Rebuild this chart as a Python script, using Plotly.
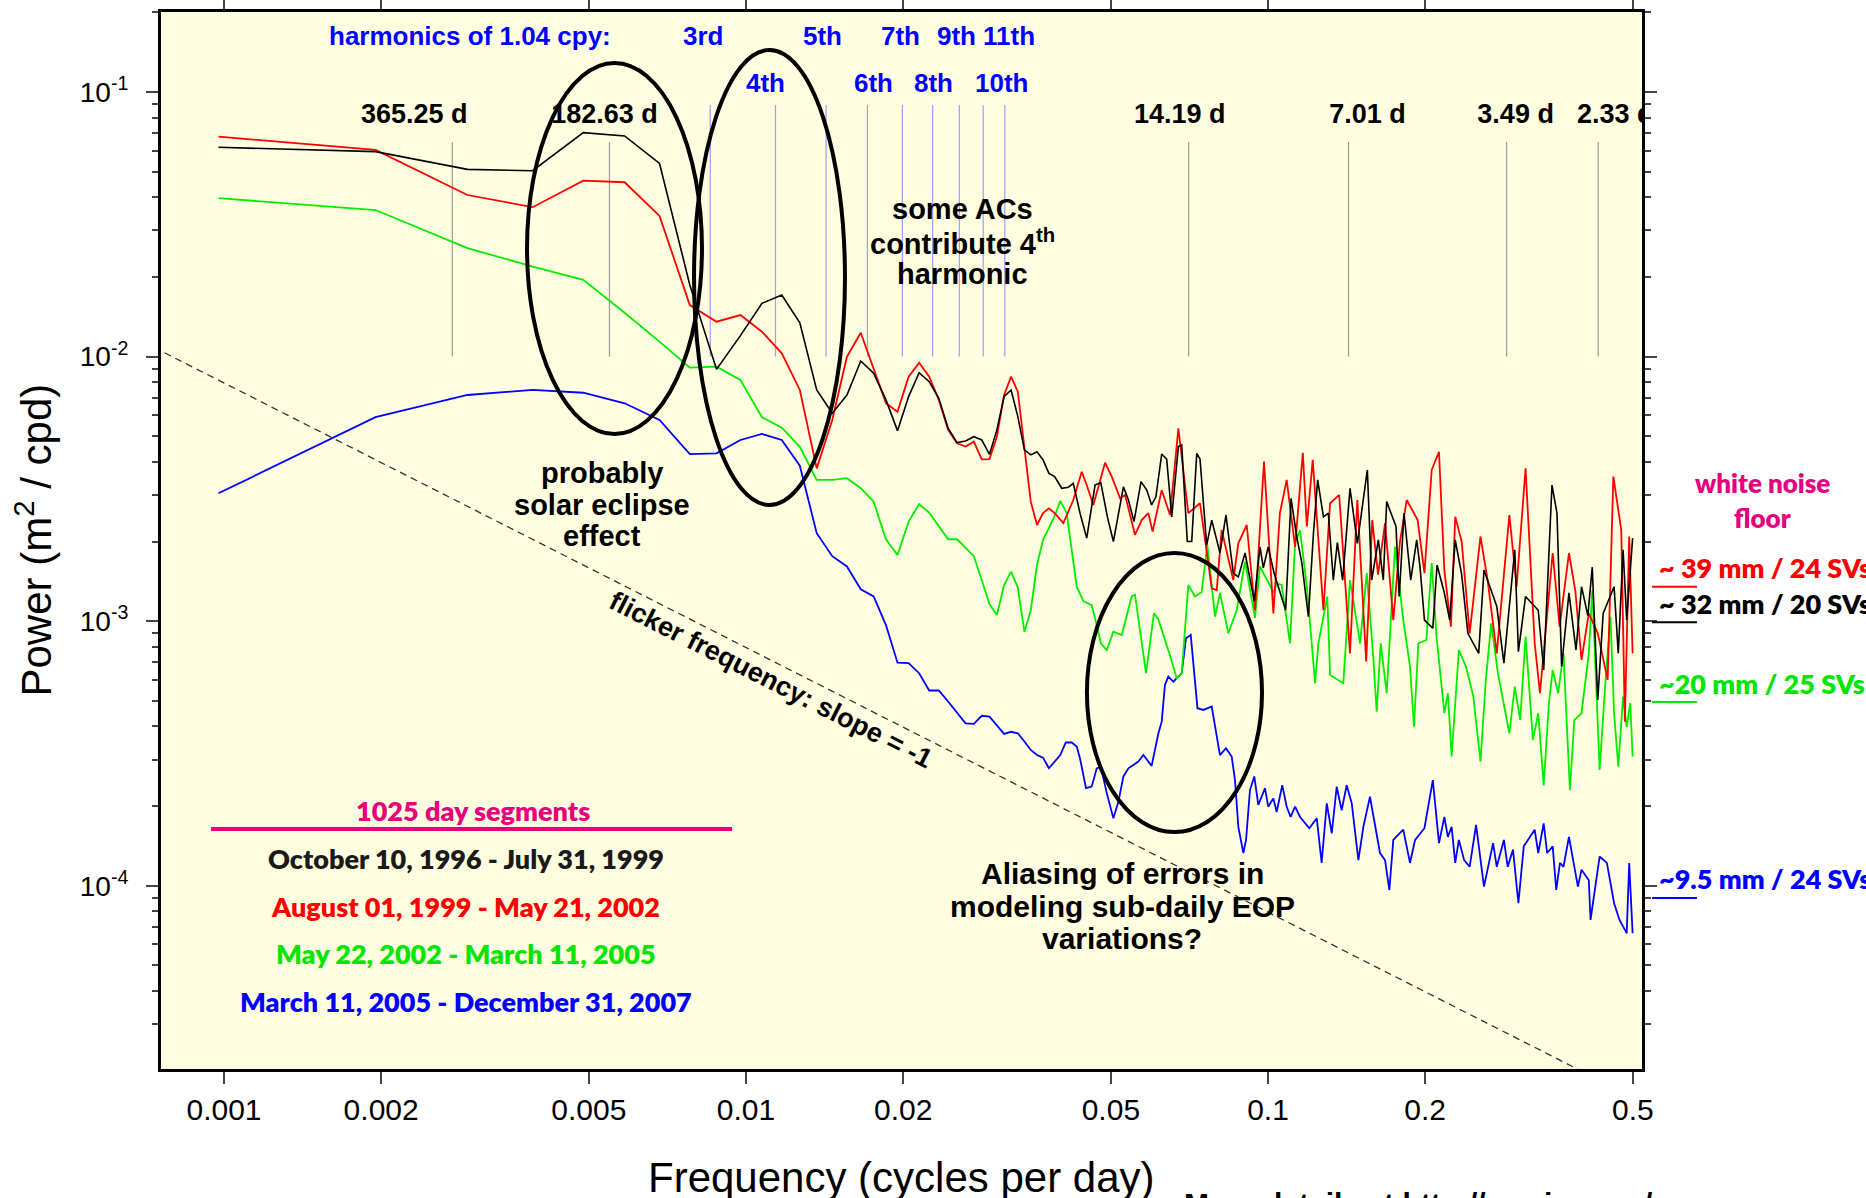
import math
import plotly.graph_objects as go

# ---------------- data ----------------
# frequency bins of the 1025-day segments (cycles per day), low-frequency part
low_freq = [0.000976, 0.001951, 0.002927, 0.003902, 0.004878, 0.005854, 0.006829, 0.007805,
            0.008780, 0.009756, 0.01073, 0.01171, 0.01268, 0.01366, 0.01463, 0.01561,
            0.01659, 0.01756, 0.01854, 0.01951, 0.02049, 0.02146, 0.02244, 0.02341,
            0.02439, 0.02537, 0.02634, 0.02732, 0.02829, 0.02927, 0.03024, 0.03122,
            0.03220, 0.03317, 0.03415, 0.03512, 0.03610, 0.03707, 0.03805, 0.03902,
            0.04000, 0.04098]

# --- October 10, 1996 - July 31, 1999 (black)
black_low_p = [0.0618, 0.0595, 0.0510, 0.0504, 0.0702, 0.0682, 0.0537, 0.01865,
               0.00895, 0.0120, 0.0159, 0.01709, 0.01343, 0.00748, 0.00611, 0.00716,
               0.00962, 0.00865, 0.00686, 0.00525, 0.00706, 0.00869, 0.00804, 0.00696,
               0.00536, 0.00473, 0.00480, 0.00498, 0.00484, 0.00427, 0.00528, 0.00706,
               0.00748, 0.00593, 0.00444, 0.00425, 0.00437, 0.00407, 0.00362, 0.00352]
black_hf_f = [0.04026, 0.04145, 0.04237, 0.04364, 0.04495, 0.04663, 0.04783, 0.04924, 0.05056, 0.05285,
              0.05403, 0.05537, 0.05712, 0.05858, 0.05985, 0.06099, 0.06257, 0.06396, 0.06540, 0.06735,
              0.06834, 0.07005, 0.07143, 0.07303, 0.07409, 0.07631, 0.07802, 0.08091, 0.08308, 0.08581,
              0.08774, 0.09037, 0.09413, 0.09654, 0.09796, 0.1001, 0.1027, 0.1081, 0.1107, 0.1135,
              0.1161, 0.1195, 0.1222, 0.1245, 0.1277, 0.1305, 0.1334, 0.1358, 0.1390, 0.1436,
              0.1483, 0.1550, 0.1580, 0.1627, 0.1663, 0.1688, 0.1759, 0.1784, 0.1822, 0.1877,
              0.1927, 0.1955, 0.1994, 0.2069, 0.2108, 0.2177, 0.2229, 0.2284, 0.2350, 0.2415,
              0.2533, 0.2593, 0.2743, 0.2831, 0.2970, 0.3018, 0.3115, 0.3294, 0.3374, 0.3500,
              0.3578, 0.3652, 0.3772, 0.3891, 0.3987, 0.4100, 0.4180, 0.4283, 0.4386, 0.4603,
              0.4689, 0.4789, 0.4866, 0.4995]
black_hf_p = [0.00318, 0.00321, 0.00332, 0.00256, 0.00206, 0.00327, 0.00334, 0.00248, 0.00200, 0.00322,
              0.00287, 0.00238, 0.00337, 0.00313, 0.00275, 0.00295, 0.00428, 0.00410, 0.00248, 0.00457,
              0.00463, 0.00200, 0.00200, 0.00431, 0.00410, 0.00194, 0.00241, 0.00181, 0.00252, 0.00152,
              0.00147, 0.00181, 0.00119, 0.00191, 0.00159, 0.00191, 0.00152, 0.00110, 0.00291, 0.00209,
              0.00166, 0.00104, 0.00215, 0.00342, 0.00248, 0.00256, 0.00143, 0.00198, 0.00143, 0.00318,
              0.00197, 0.00373, 0.00143, 0.00203, 0.00143, 0.00283, 0.00228, 0.00124, 0.00256, 0.00143,
              0.00203, 0.00161, 0.00101, 0.00094, 0.00163, 0.00128, 0.00101, 0.00203, 0.00150, 0.00090,
              0.000756, 0.00156, 0.00114, 0.000694, 0.00186, 0.000767, 0.00124, 0.00110, 0.000654, 0.00327,
              0.00256, 0.000674, 0.00128, 0.000778, 0.00135, 0.00105, 0.00160, 0.000504, 0.00107, 0.00135,
              0.000756, 0.00186, 0.00101, 0.00206]

# --- August 01, 1999 - May 21, 2002 (red)
red_low_p = [0.0678, 0.0604, 0.0408, 0.0367, 0.0462, 0.0456, 0.0340, 0.01566,
             0.01355, 0.01436, 0.01242, 0.01029, 0.00748, 0.00378, 0.00576, 0.00999,
             0.01231, 0.00903, 0.00667, 0.00619, 0.00840, 0.00948, 0.00840, 0.00686,
             0.00528, 0.00470, 0.00457, 0.00477, 0.00409, 0.00410, 0.00498, 0.00716,
             0.00840, 0.00737, 0.00444, 0.00283, 0.00231, 0.00256, 0.00267, 0.00256]
red_hf_f = [0.04055, 0.04237, 0.04397, 0.04495, 0.04628, 0.04874, 0.05020, 0.05208, 0.05324, 0.05561,
            0.05730, 0.05900, 0.06011, 0.06257, 0.06491, 0.06735, 0.07037, 0.07409, 0.07802, 0.07976,
            0.08152, 0.08581, 0.08774, 0.09105, 0.09442, 0.09826, 0.1024, 0.1054, 0.1086, 0.1127,
            0.1166, 0.1187, 0.1218, 0.1277, 0.1315, 0.1369, 0.1436, 0.1483, 0.1542, 0.1584,
            0.1625, 0.1676, 0.1738, 0.1790, 0.1844, 0.1935, 0.1994, 0.2059, 0.2126, 0.2177,
            0.2241, 0.2284, 0.2350, 0.2434, 0.2553, 0.2635, 0.2743, 0.2900, 0.2994, 0.3115,
            0.3243, 0.3319, 0.3511, 0.3620, 0.3772, 0.3880, 0.3987, 0.4117, 0.4283, 0.4474,
            0.4588, 0.4751, 0.4827, 0.4920, 0.4995]
red_hf_p = [0.00235, 0.00287, 0.00367, 0.00327, 0.00275, 0.00397, 0.00352, 0.00291, 0.00300, 0.00212,
            0.00241, 0.00256, 0.00218, 0.00313, 0.00252, 0.00536, 0.00256, 0.00279, 0.00133, 0.00131,
            0.00221, 0.00143, 0.00197, 0.00231, 0.00110, 0.00401, 0.00107, 0.00256, 0.00342, 0.00191,
            0.00433, 0.00228, 0.00407, 0.00110, 0.00279, 0.00300, 0.000756, 0.00287, 0.000704, 0.00241,
            0.00150, 0.00235, 0.00101, 0.00200, 0.00287, 0.00241, 0.00152, 0.00373, 0.00437, 0.00156,
            0.000953, 0.00248, 0.00200, 0.00090, 0.00209, 0.00143, 0.000756, 0.00252, 0.00135, 0.00378,
            0.000825, 0.000534, 0.00181, 0.000953, 0.00181, 0.00130, 0.000714, 0.00107, 0.00090, 0.00060,
            0.00352, 0.00221, 0.000417, 0.00209, 0.000756]

# --- May 22, 2002 - March 11, 2005 (green)
green_low_p = [0.0397, 0.0358, 0.0257, 0.0219, 0.0195, 0.01464, 0.01139, 0.00908,
               0.00916, 0.00816, 0.00590, 0.00539, 0.00456, 0.00342, 0.00342, 0.00347,
               0.00318, 0.00283, 0.00204, 0.00178, 0.00238, 0.00277, 0.00257, 0.00228,
               0.00204, 0.00204, 0.00189, 0.00176, 0.00143, 0.00116, 0.001055, 0.00137,
               0.00154, 0.00134, 0.000912, 0.00110, 0.00163, 0.00203, 0.00225, 0.00250,
               0.00285]
green_hf_f = [0.04115, 0.04207, 0.04301, 0.04428, 0.04595, 0.04698, 0.04783, 0.04911, 0.05056, 0.05247,
              0.05481, 0.05561, 0.05839, 0.06046, 0.06160, 0.06471, 0.06686, 0.06834, 0.07037, 0.07248,
              0.07465, 0.07652, 0.07917, 0.08091, 0.08394, 0.08711, 0.09037, 0.09442, 0.09654, 0.1026,
              0.1039, 0.1062, 0.1102, 0.1127, 0.1152, 0.1187, 0.1231, 0.1249, 0.1299, 0.1315,
              0.1394, 0.1436, 0.1501, 0.1546, 0.1591, 0.1615, 0.1644, 0.1688, 0.1751, 0.1816,
              0.1871, 0.1904, 0.1941, 0.2011, 0.2059, 0.2103, 0.2177, 0.2211, 0.2248, 0.2321,
              0.2395, 0.2474, 0.2553, 0.2614, 0.2677, 0.2757, 0.2900, 0.2970, 0.3042, 0.3115,
              0.3217, 0.3294, 0.3374, 0.3453, 0.3511, 0.3595, 0.3682, 0.3788, 0.3862, 0.3987,
              0.4117, 0.4182, 0.4318, 0.4424, 0.4530, 0.4603, 0.4689, 0.4789, 0.4866, 0.4943,
              0.4995]
green_hf_p = [0.00256, 0.00186, 0.00135, 0.00119, 0.00115, 0.000967, 0.000825, 0.000778, 0.000912, 0.000887,
              0.00124, 0.00126, 0.000636, 0.00107, 0.00102, 0.000756, 0.000608, 0.000636, 0.00137, 0.00124,
              0.00129, 0.00194, 0.00104, 0.00128, 0.00090, 0.00110, 0.00168, 0.00103, 0.00161, 0.00128,
              0.00139, 0.00137, 0.000825, 0.00197, 0.00221, 0.00135, 0.000583, 0.000825, 0.00124, 0.000626,
              0.000583, 0.00143, 0.000825, 0.00152, 0.000734, 0.000455, 0.000825, 0.000534, 0.00191, 0.00101,
              0.000674, 0.000399, 0.000825, 0.000849, 0.00166, 0.000874, 0.000449, 0.000534, 0.000308, 0.000778,
              0.000674, 0.000519, 0.000295, 0.00060, 0.000981, 0.000636, 0.000377, 0.000566, 0.000423, 0.000874,
              0.000356, 0.000449, 0.000240, 0.000490, 0.000654, 0.000534, 0.000756, 0.000230, 0.000423, 0.000449,
              0.000756, 0.00131, 0.000274, 0.000566, 0.00104, 0.000449, 0.000282, 0.000519, 0.000399, 0.000490,
              0.000308]

# --- March 11, 2005 - December 31, 2007 (blue)
blue_low_p = [0.003043, 0.00590, 0.00716, 0.00748, 0.00730, 0.00666, 0.00576, 0.00428,
              0.00431, 0.00484, 0.00510, 0.00484, 0.00387, 0.00215, 0.00176, 0.00161,
              0.00132, 0.00124, 0.000967, 0.000697, 0.000694, 0.000636, 0.000547, 0.000547,
              0.000497, 0.000449, 0.000411, 0.000409, 0.000439, 0.000436, 0.000402, 0.000375,
              0.000382, 0.000377, 0.000351, 0.000326, 0.000312, 0.000305, 0.000278, 0.000295,
              0.000312, 0.000348]
blue_hf_f = [0.04207, 0.04301, 0.04364, 0.04481, 0.04595, 0.04698, 0.04783, 0.04911, 0.05056, 0.05170,
             0.05285, 0.05403, 0.05644, 0.05771, 0.05985, 0.06167, 0.06257, 0.06348, 0.06443, 0.06586,
             0.06834, 0.06965, 0.07112, 0.07326, 0.07518, 0.07802, 0.08091, 0.08308, 0.08520, 0.08646,
             0.08774, 0.08970, 0.09077, 0.09236, 0.09413, 0.09582, 0.09869, 0.1001, 0.1024, 0.1039,
             0.1065, 0.1086, 0.1105, 0.1127, 0.1152, 0.1200, 0.1240, 0.1267, 0.1296, 0.1325,
             0.1354, 0.1384, 0.1415, 0.1447, 0.1490, 0.1523, 0.1568, 0.1639, 0.1676, 0.1708,
             0.1738, 0.1816, 0.1871, 0.1913, 0.1994, 0.2069, 0.2126, 0.2177, 0.2211, 0.2248,
             0.2284, 0.2321, 0.2376, 0.2434, 0.2504, 0.2593, 0.2699, 0.2743, 0.2831, 0.2879,
             0.2947, 0.3018, 0.3090, 0.3243, 0.3294, 0.3374, 0.3426, 0.3511, 0.3566, 0.3625,
             0.3682, 0.3772, 0.3924, 0.3987, 0.4117, 0.4149, 0.4318, 0.4459, 0.4603, 0.4714,
             0.4866, 0.4920, 0.4995]
blue_hf_p = [0.000348, 0.000336, 0.000303, 0.000234, 0.000237, 0.000278, 0.000282, 0.000224, 0.000180, 0.000208,
             0.000259, 0.000278, 0.000295, 0.000312, 0.000284, 0.000377, 0.000417, 0.000575, 0.000617, 0.000591,
             0.000636, 0.000862, 0.000887, 0.000469, 0.000462, 0.000476, 0.000312, 0.000331, 0.000308, 0.000251,
             0.000167, 0.000133, 0.000149, 0.000230, 0.000259, 0.000202, 0.000234, 0.000199, 0.000214, 0.000190,
             0.000240, 0.000199, 0.000182, 0.000199, 0.000182, 0.000165, 0.000180, 0.000122, 0.000205, 0.000158,
             0.000237, 0.000193, 0.000240, 0.000205, 0.000125, 0.000167, 0.000217, 0.000133, 0.000125, 0.0000964,
             0.000149, 0.000163, 0.000122, 0.000149, 0.000165, 0.000251, 0.000145, 0.000182, 0.000153, 0.000167,
             0.000122, 0.000149, 0.000125, 0.000118, 0.000170, 0.0000993, 0.000145, 0.000118, 0.000149, 0.000118,
             0.000137, 0.0000859, 0.000141, 0.000163, 0.000133, 0.000172, 0.000133, 0.000141, 0.0000964, 0.000122,
             0.000118, 0.000153, 0.0000993, 0.000115, 0.000105, 0.0000743, 0.000129, 0.000122, 0.0000859, 0.0000743,
             0.0000662, 0.000122, 0.0000662]

segment_labels = ["October 10, 1996 - July 31, 1999", "August 01, 1999 - May 21, 2002",
                  "May 22, 2002 - March 11, 2005", "March 11, 2005 - December 31, 2007"]
segment_colors = ["#1a1a1a", "#FF0000", "#00E600", "#0000FF"]

# white noise floor levels (power) and their labels, order: red, black, green, blue
noise_floor_p = [0.00135, 0.00099, 0.000495, 0.0000900]
noise_floor_labels = ["~ 39 mm / 24 SVs", "~ 32 mm / 20 SVs", "~20 mm / 25 SVs", "~9.5 mm / 24 SVs"]
noise_floor_colors = ["#FF0000", "#000000", "#00E600", "#0000FF"]

period_days = [365.25, 182.63, 14.19, 7.01, 3.49, 2.33]
harmonic_base_cpy = 1.04
harmonic_orders = [3, 4, 5, 6, 7, 8, 9, 10, 11]
harmonic_names = ["3rd", "4th", "5th", "6th", "7th", "8th", "9th", "10th", "11th"]

flicker_f = [0.0007, 0.6]
flicker_p = [0.01136, 0.00001325]

x_tickvals = [0.001, 0.002, 0.005, 0.01, 0.02, 0.05, 0.1, 0.2, 0.5]
x_ticktext = ["0.001", "0.002", "0.005", "0.01", "0.02", "0.05", "0.1", "0.2", "0.5"]
y_tickvals = [1e-4, 1e-3, 1e-2, 1e-1]
y_ticktext = ["10<sup>-4</sup>", "10<sup>-3</sup>", "10<sup>-2</sup>", "10<sup>-1</sup>"]

# ---------------- figure ----------------
ARIAL = "Liberation Sans, Arial, Helvetica, sans-serif"
MYRIAD = "Lato, Open Sans, sans-serif"
X_RANGE = [-3.1207, -0.2835]
Y_RANGE = [-4.6924, -0.6977]
PLOT_W = 1481
PX_PER_DECADE = PLOT_W / (X_RANGE[1] - X_RANGE[0])

fig = go.Figure()

series = [
    (low_freq[:42] + blue_hf_f, blue_low_p + blue_hf_p, "#0000FF", 1.8),
    (low_freq[:41] + green_hf_f, green_low_p + green_hf_p, "#00EE00", 1.8),
    (low_freq[:40] + red_hf_f, red_low_p + red_hf_p, "#FF0000", 1.8),
    (low_freq[:40] + black_hf_f, black_low_p + black_hf_p, "#000000", 1.6),
]
for f, p, c, w in series:
    fig.add_trace(go.Scatter(x=f, y=p, mode="lines", line=dict(color=c, width=w),
                             showlegend=False, hoverinfo="skip"))

fig.add_trace(go.Scatter(x=flicker_f, y=flicker_p, mode="lines",
                         line=dict(color="#333333", width=1.3, dash="7px,5px"),
                         showlegend=False, hoverinfo="skip"))

# period labels as clipped text (the last one is cut by the plot frame)
p_shift = [-38, -5, -9, 19, 9, 17]
fig.add_trace(go.Scatter(
    x=[(1.0 / d) * 10 ** (sh / PX_PER_DECADE) for d, sh in zip(period_days, p_shift)],
    y=[0.0811] * len(period_days),
    text=[f"{d:g} d" for d in period_days], mode="text", textposition="middle center",
    cliponaxis=True, showlegend=False, hoverinfo="skip",
    textfont=dict(family=ARIAL, size=27, color="black", weight="bold")))

shapes = []
# period marker lines (gray)
for d in period_days:
    shapes.append(dict(type="line", xref="x", yref="y", x0=1.0 / d, x1=1.0 / d, y0=0.01, y1=0.0647,
                       line=dict(color="#9a9a9a", width=1.2), layer="below"))
# harmonics of 1.04 cpy (light blue)
for n in harmonic_orders:
    fh = n * harmonic_base_cpy / 365.25
    shapes.append(dict(type="line", xref="x", yref="y", x0=fh, x1=fh, y0=0.01, y1=0.0893,
                       line=dict(color="#9AA0F5", width=1.2), layer="below"))
# ellipses
for (x0, x1, y0, y1) in [(0.003806, 0.008235, 0.005098, 0.1287),
                         (0.007951, 0.015475, 0.002749, 0.1441),
                         (0.04499, 0.09739, 0.0001597, 0.001810)]:
    shapes.append(dict(type="circle", xref="x", yref="y", x0=x0, x1=x1, y0=y0, y1=y1,
                       line=dict(color="black", width=4), layer="above"))
# legend underline
shapes.append(dict(type="line", xref="paper", yref="paper", x0=0.0338, x1=0.3856, y0=0.2271, y1=0.2271,
                   line=dict(color="#E6007E", width=4)))
# white-noise floor markers on the right
for pf, col in zip(noise_floor_p, noise_floor_colors):
    shapes.append(dict(type="line", xref="paper", yref="y", x0=1.0068, x1=1.0371, y0=pf, y1=pf,
                       line=dict(color=col, width=2)))
fig.update_layout(shapes=shapes)


def txt(text, x, y, size, color="black", xref="paper", yref="paper", family=ARIAL, weight="bold",
        xanchor="center", yanchor="middle", xshift=0, yshift=0, angle=0):
    fig.add_annotation(text=text, x=x, y=y, xref=xref, yref=yref, showarrow=False,
                       xanchor=xanchor, yanchor=yanchor, xshift=xshift, yshift=yshift,
                       textangle=angle,
                       font=dict(family=family, size=size, color=color, weight=weight))


# axis titles
txt("Frequency (cycles per day)", 0.5, -0.1025, 42, weight="normal")
txt("Power (m<sup>2</sup> / cpd)", -0.0864, 0.5, 42, weight="normal", angle=-90)

# harmonic labels
txt("harmonics of 1.04 cpy:", 0.2086, 0.9773, 26, color="#0000FF")
h_shift = [-7, -10, -4, 6, -2, 1, -3, 18, 4]
for n, name, sh in zip(harmonic_orders, harmonic_names, h_shift):
    fh = n * harmonic_base_cpy / 365.25
    txt(name, math.log10(fh), 0.9773 if n % 2 == 1 else 0.9328, 26, color="#0000FF",
        xref="x", xshift=sh)

# in-plot notes
for line, y in zip(["probably", "solar eclipse", "effect"], [0.5639, 0.5336, 0.5043]):
    txt(line, 0.2978, y, 29)
for line, y in zip(["some ACs", "contribute 4<sup>th</sup>", "harmonic"], [0.8136, 0.7824, 0.7521]):
    txt(line, 0.5412, y, 29)
for line, y in zip(["Aliasing of errors in", "modeling sub-daily EOP", "variations?"],
                   [0.1854, 0.1542, 0.1230]):
    txt(line, 0.6489, y, 30)
txt("flicker frequency: slope = -1", 0.4119, 0.368, 27,
    angle=math.degrees(math.atan(264.6 / 522.0)))

# segment legend
txt("1025 day segments", 0.2104, 0.2441, 27, color="#E6007E", family=MYRIAD, weight=800)
for lab, col, y in zip(segment_labels, segment_colors, [0.1987, 0.1542, 0.1097, 0.0634]):
    txt(lab, 0.2059, y, 27, color=col, family=MYRIAD, weight=800)

# white noise floor annotation
txt("white noise", 1.0817, 0.5544, 26, color="#E6007E", family=MYRIAD, weight=800)
txt("floor", 1.0817, 0.5213, 26, color="#E6007E", family=MYRIAD, weight=800)
for pf, lab, col in zip(noise_floor_p, noise_floor_labels, noise_floor_colors):
    txt(lab, 1.0101, math.log10(pf), 27, color=col, yref="y", family=MYRIAD, weight=800,
        xanchor="left", yshift=19)

# footer (cut off at the bottom of the page)
txt("More details at http://acc.igs.org/", 0.6894, -0.1097, 30, xanchor="left", yanchor="top")

axis_common = dict(type="log", showline=True, linewidth=3, linecolor="black", mirror="ticks",
                   ticks="outside", ticklen=12, tickwidth=1.5, tickcolor="#444444",
                   showgrid=False, zeroline=False, automargin=False)
fig.update_xaxes(range=X_RANGE, tickvals=x_tickvals, ticktext=x_ticktext,
                 tickfont=dict(family=ARIAL, size=30, color="black"), ticklabelstandoff=0,
                 **axis_common)
minor_vals = [m * 10.0 ** e for e in range(-5, 0) for m in range(2, 10)]
fig.update_yaxes(range=Y_RANGE, tickvals=y_tickvals, ticktext=y_ticktext,
                 tickfont=dict(family=ARIAL, size=28, color="black"), ticklabelstandoff=12,
                 minor=dict(tickvals=minor_vals, ticks="outside", ticklen=6, tickwidth=1.5,
                            tickcolor="#444444", showgrid=False),
                 **axis_common)

fig.update_layout(width=1866, height=1198,
                  margin=dict(l=161, r=224, t=12, b=129, autoexpand=False),
                  paper_bgcolor="white", plot_bgcolor="#FFFDDF", showlegend=False)

fig.write_html("out.html")
